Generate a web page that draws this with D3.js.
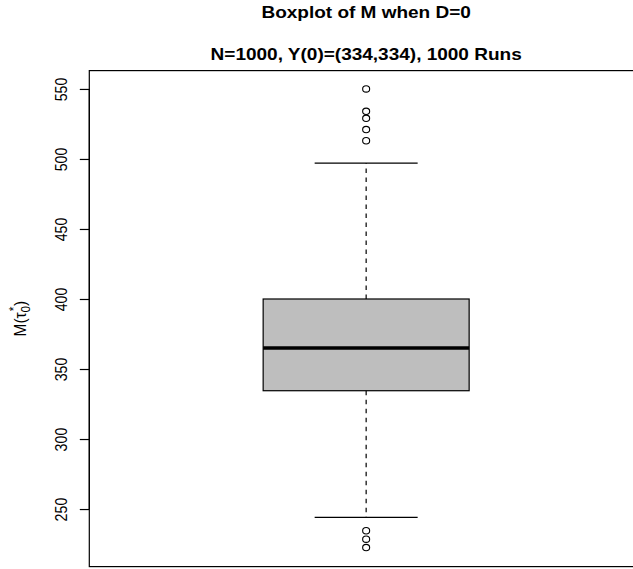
<!DOCTYPE html>
<html>
<head>
<meta charset="utf-8">
<script src="https://cdnjs.cloudflare.com/ajax/libs/d3/7.8.5/d3.min.js"></script>
<style>
  html, body { margin: 0; padding: 0; background: #fff; }
  svg { display: block; }
  text { font-family: "Liberation Sans", Arial, Helvetica, sans-serif; fill: #000; }
</style>
</head>
<body>
<svg id="chart" width="633" height="569"></svg>
<script>
// ---- data ----
const categories = ["M"];
const boxStats = [{ cat: "M", lowerWhisker: 244, q1: 334.5, median: 365, q3: 400, upperWhisker: 497 }];
const outliers = [550, 534, 529, 521, 513, 234.5, 228.5, 222.5];
const yTicks = [250, 300, 350, 400, 450, 500, 550];
const titleText = "Boxplot of M when D=0";
const subtitleText = "N=1000, Y(0)=(334,334), 1000 Runs";

// ---- layout ----
const W = 633, H = 569;
const plot = { left: 89.3, right: 643, top: 70.6, bottom: 566.6 };
const sx = 1.32, sy = 1.185; // horizontal / vertical stretch of the original device

const svg = d3.select("#chart");

const y = d3.scaleLinear().domain([208.9, 563.1]).range([plot.bottom, plot.top]);
const x = d3.scaleBand().domain(categories).range([plot.left, plot.right]).padding(0.4577);
const bw = x.bandwidth();

// box + whiskers
const g = svg.append("g");
boxStats.forEach(s => {
  const x0 = x(s.cat), xc = x0 + bw / 2;
  g.append("line").attr("x1", xc).attr("x2", xc).attr("y1", y(s.q3)).attr("y2", y(s.upperWhisker))
    .attr("stroke", "#000").attr("stroke-width", 1.2).attr("stroke-dasharray", "4.5,4.5");
  g.append("line").attr("x1", xc).attr("x2", xc).attr("y1", y(s.q1)).attr("y2", y(s.lowerWhisker))
    .attr("stroke", "#000").attr("stroke-width", 1.2).attr("stroke-dasharray", "4.5,4.5");
  [s.upperWhisker, s.lowerWhisker].forEach(v => {
    g.append("line").attr("x1", xc - bw / 4).attr("x2", xc + bw / 4).attr("y1", y(v)).attr("y2", y(v))
      .attr("stroke", "#000").attr("stroke-width", 1.2);
  });
  g.append("rect").attr("x", x0).attr("width", bw).attr("y", y(s.q3)).attr("height", y(s.q1) - y(s.q3))
    .attr("fill", "#bebebe").attr("stroke", "#000").attr("stroke-width", 1.2);
  g.append("line").attr("x1", x0).attr("x2", x0 + bw).attr("y1", y(s.median)).attr("y2", y(s.median))
    .attr("stroke", "#000").attr("stroke-width", 3.4);
  g.selectAll("ellipse.out").data(outliers).join("ellipse").attr("class", "out")
    .attr("cx", xc).attr("cy", d => y(d)).attr("rx", 3.5).attr("ry", 3.2)
    .attr("fill", "none").attr("stroke", "#000").attr("stroke-width", 1.1);
});

// plot frame
svg.append("rect").attr("x", plot.left).attr("y", plot.top)
  .attr("width", plot.right - plot.left).attr("height", plot.bottom - plot.top)
  .attr("fill", "none").attr("stroke", "#000").attr("stroke-width", 1.2);

// y axis
const yAxis = d3.axisLeft(y).tickValues(yTicks).tickSize(9.5).tickPadding(0).tickFormat(d3.format("d"));
const ag = svg.append("g").attr("transform", `translate(${plot.left},0)`).call(yAxis);
ag.select(".domain").attr("stroke", "#000").attr("stroke-width", 1.2)
  .attr("d", `M0,${y(yTicks[0])}V${y(yTicks[yTicks.length - 1])}`);
ag.selectAll(".tick line").attr("stroke", "#000").attr("stroke-width", 1.2);
ag.selectAll(".tick text")
  .attr("x", null).attr("dy", null)
  .attr("text-anchor", "middle")
  .attr("font-size", 12)
  .attr("font-family", "Liberation Sans, Arial, sans-serif")
  .attr("transform", `translate(${67 - plot.left},0) scale(${sx},${sy}) rotate(-90)`);

// y axis label  M(τ*0)
const yl = svg.append("text")
  .attr("transform", `translate(25.5,${(plot.top + plot.bottom) / 2}) scale(${sx},${sy}) rotate(-90)`)
  .attr("text-anchor", "middle").attr("font-size", 13);
yl.append("tspan").text("M(τ");
yl.append("tspan").attr("font-size", 10).attr("dx", 1).attr("dy", -5.5).text("*");
yl.append("tspan").attr("font-size", 10).attr("dx", -5).attr("dy", 9).text("0");
yl.append("tspan").attr("dy", -3.5).text(")");

// titles
const cx = (plot.left + plot.right) / 2;
svg.append("text").attr("transform", `translate(${cx},17.5) scale(${sx},${sy})`)
  .attr("text-anchor", "middle").attr("font-size", 14.4).attr("font-weight", "bold").text(titleText);
svg.append("text").attr("transform", `translate(${cx},60) scale(${sx},${sy})`)
  .attr("text-anchor", "middle").attr("font-size", 14.4).attr("font-weight", "bold").text(subtitleText);
</script>
</body>
</html>
